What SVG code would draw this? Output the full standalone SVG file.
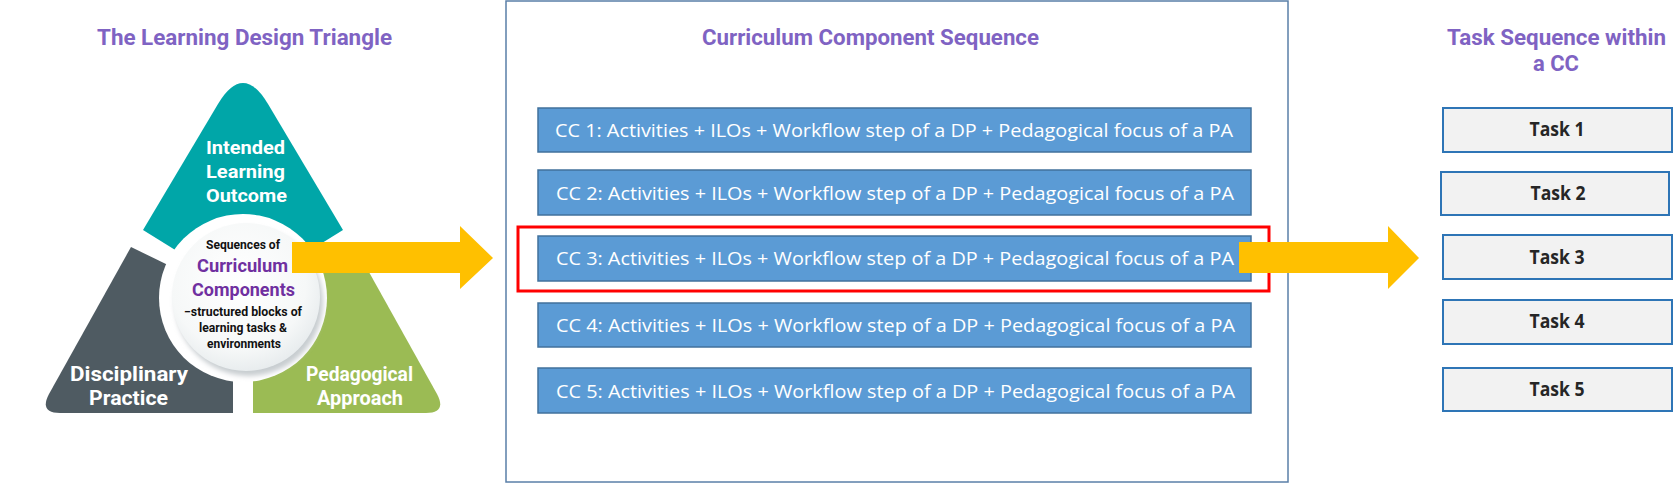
<svg xmlns="http://www.w3.org/2000/svg" width="1680" height="483" viewBox="0 0 1680 483">
<defs>
  <radialGradient id="cg" cx="0.45" cy="0.4" r="0.65">
    <stop offset="0" stop-color="#ffffff"/>
    <stop offset="0.7" stop-color="#f6f8f8"/>
    <stop offset="1" stop-color="#e4e9eb"/>
  </radialGradient>
  <filter id="blur" x="-20%" y="-20%" width="140%" height="140%">
    <feGaussianBlur stdDeviation="2.5"/>
  </filter>
</defs>
<style>
  .title{font-family:Roboto,"Liberation Sans",sans-serif;font-weight:700;font-size:22px;fill:#7F63C3;text-anchor:middle}
  .tri{font-family:Roboto,"Liberation Sans",sans-serif;font-weight:700;font-size:19px;fill:#ffffff;text-anchor:middle}
  .tri2{font-family:Roboto,"Liberation Sans",sans-serif;font-weight:700;font-size:20px;fill:#ffffff;text-anchor:middle}
  .ctr{font-family:Roboto,"Liberation Sans",sans-serif;font-weight:700;font-size:12.5px;fill:#111111;text-anchor:middle}
  .ctrp{font-family:Roboto,"Liberation Sans",sans-serif;font-weight:700;font-size:18px;fill:#7030A0;text-anchor:middle}
  .cc rect{fill:#5B9BD5;stroke:#41719C;stroke-width:1.5}
  .cc text{font-family:"Open Sans","Liberation Sans",sans-serif;font-size:18.5px;fill:#ffffff}
  .task rect{fill:#F2F2F2;stroke:#2E75B6;stroke-width:2}
  .task text{font-family:"Open Sans","Liberation Sans",sans-serif;font-weight:700;font-size:20px;fill:#262626;text-anchor:middle}
  .arrow{fill:#FFC000}
</style>

<g id="triangle-title"><text class="title" x="244.5" y="45" textLength="295" lengthAdjust="spacingAndGlyphs">The Learning Design Triangle</text></g>

<g id="ilo">
  <path d="M143,230 L218,104 Q243,62 268,104 L343,230 L243,292 Z" fill="#00A6A8"/>
  <text class="tri" x="245.5" y="154" textLength="79" lengthAdjust="spacingAndGlyphs">Intended</text>
  <text class="tri" x="245.5" y="178" textLength="79" lengthAdjust="spacingAndGlyphs">Learning</text>
  <text class="tri" x="246.5" y="202" textLength="81" lengthAdjust="spacingAndGlyphs">Outcome</text>
</g>
<g id="dp">
  <path d="M131,247 L205,283 L233,300 L233,413 L60,413 Q39,413 49,394 Z" fill="#4F5B62"/>
  <text class="tri2" x="129" y="381" textLength="118" lengthAdjust="spacingAndGlyphs">Disciplinary</text>
  <text class="tri2" x="128.5" y="405" textLength="79" lengthAdjust="spacingAndGlyphs">Practice</text>
</g>
<g id="pa">
  <path d="M355,247 L281,283 L253,300 L253,413 L426,413 Q447,413 437,394 Z" fill="#9BBB54"/>
  <text class="tri2" x="359.5" y="381" textLength="107" lengthAdjust="spacingAndGlyphs">Pedagogical</text>
  <text class="tri2" x="360" y="405" textLength="86" lengthAdjust="spacingAndGlyphs">Approach</text>
</g>
<g id="cc-circle">
  <circle cx="243" cy="298" r="84" fill="#ffffff"/>
  <circle cx="249" cy="302" r="74" fill="#c8cdd0" filter="url(#blur)"/>
  <circle cx="246" cy="297" r="74" fill="url(#cg)"/>
  <text class="ctr" x="243" y="249" textLength="74" lengthAdjust="spacingAndGlyphs">Sequences of</text>
  <text class="ctrp" x="242.5" y="272" textLength="91" lengthAdjust="spacingAndGlyphs">Curriculum</text>
  <text class="ctrp" x="243.5" y="296" textLength="103" lengthAdjust="spacingAndGlyphs">Components</text>
  <text class="ctr" x="243" y="316" textLength="118" lengthAdjust="spacingAndGlyphs">−structured blocks of</text>
  <text class="ctr" x="243" y="332" textLength="88" lengthAdjust="spacingAndGlyphs">learning tasks &amp;</text>
  <text class="ctr" x="244" y="348" textLength="74" lengthAdjust="spacingAndGlyphs">environments</text>
</g>

<g id="cc-frame">
  <rect x="506" y="1" width="782" height="481" fill="#ffffff" stroke="#5A7FA8" stroke-width="1.5"/>
  <text class="title" x="870.5" y="45" textLength="337" lengthAdjust="spacingAndGlyphs">Curriculum  Component Sequence</text>
</g>
<g id="cc1" class="cc"><rect x="538" y="108" width="713" height="44"/><text x="555" y="137" textLength="678" lengthAdjust="spacingAndGlyphs">CC 1: Activities + ILOs + Workflow step of a DP + Pedagogical focus of a PA</text></g>
<g id="cc2" class="cc"><rect x="538" y="170" width="713" height="45"/><text x="556" y="200" textLength="678" lengthAdjust="spacingAndGlyphs">CC 2: Activities + ILOs + Workflow step of a DP + Pedagogical focus of a PA</text></g>
<g id="cc3" class="cc"><rect x="538" y="236" width="713" height="45"/><text x="556" y="265" textLength="678" lengthAdjust="spacingAndGlyphs">CC 3: Activities + ILOs + Workflow step of a DP + Pedagogical focus of a PA</text></g>
<g id="cc4" class="cc"><rect x="538" y="303" width="713" height="44"/><text x="556" y="332" textLength="679" lengthAdjust="spacingAndGlyphs">CC 4: Activities + ILOs + Workflow step of a DP + Pedagogical focus of a PA</text></g>
<g id="cc5" class="cc"><rect x="538" y="368" width="713" height="45"/><text x="556" y="398" textLength="679" lengthAdjust="spacingAndGlyphs">CC 5: Activities + ILOs + Workflow step of a DP + Pedagogical focus of a PA</text></g>
<g id="highlight"><rect x="518" y="227" width="751" height="64" fill="none" stroke="#FF0000" stroke-width="3"/></g>

<g id="task-title">
  <text class="title" x="1556.5" y="45" textLength="219" lengthAdjust="spacingAndGlyphs">Task Sequence within</text>
  <text class="title" x="1556" y="71" textLength="46" lengthAdjust="spacingAndGlyphs">a CC</text>
</g>
<g id="task1" class="task"><rect x="1443" y="108" width="229" height="44"/><text x="1557" y="136" textLength="55" lengthAdjust="spacingAndGlyphs">Task 1</text></g>
<g id="task2" class="task"><rect x="1441" y="172" width="228" height="43"/><text x="1558" y="200" textLength="55" lengthAdjust="spacingAndGlyphs">Task 2</text></g>
<g id="task3" class="task"><rect x="1443" y="235" width="229" height="44"/><text x="1557" y="264" textLength="55" lengthAdjust="spacingAndGlyphs">Task 3</text></g>
<g id="task4" class="task"><rect x="1443" y="300" width="229" height="44"/><text x="1557" y="328" textLength="55" lengthAdjust="spacingAndGlyphs">Task 4</text></g>
<g id="task5" class="task"><rect x="1443" y="368" width="229" height="43"/><text x="1557" y="396" textLength="55" lengthAdjust="spacingAndGlyphs">Task 5</text></g>

<g id="connectors">
  <path class="arrow" d="M292,242 L460,242 L460,226 L493,258 L460,289 L460,273 L292,273 Z"/>
  <path class="arrow" d="M1239,242 L1388,242 L1388,226 L1419,258 L1388,289 L1388,273 L1239,273 Z"/>
</g>
</svg>
